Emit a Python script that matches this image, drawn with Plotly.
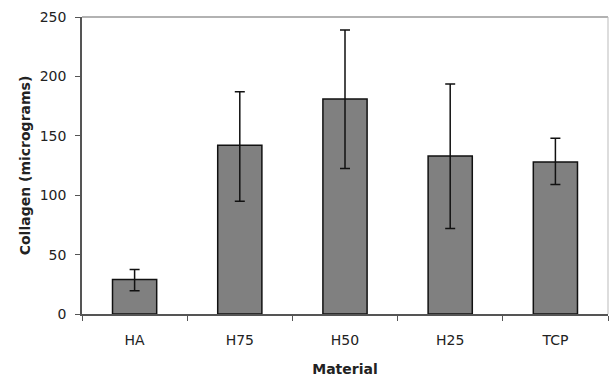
import plotly.graph_objects as go

materials = ["HA", "H75", "H50", "H25", "TCP"]
collagen = [29, 142, 181, 133, 128]
err_up = [8.5, 45, 58, 60.5, 20]
err_down = [9.5, 47, 58.5, 61, 19]

fig = go.Figure()
fig.add_trace(go.Bar(
    x=materials, y=collagen,
    marker=dict(color="#808080", line=dict(color="#111111", width=1.5)),
    error_y=dict(type="data", symmetric=False, array=err_up, arrayminus=err_down,
                 color="#111111", thickness=1.5, width=5),
))

font_family = "DejaVu Sans, sans-serif"
fig.update_layout(
    width=610, height=378,
    margin=dict(l=82, r=2, t=17, b=64),
    paper_bgcolor="white", plot_bgcolor="white",
    bargap=0.58,
    showlegend=False,
    font=dict(family=font_family, size=14, color="#222222"),
    xaxis=dict(
        showline=True, linecolor="#555555", linewidth=1.5,
        ticks="outside", ticklen=5, tickcolor="#555555", tickson="boundaries",
        ticklabelstandoff=12,
        showgrid=False,
        title=dict(text="<b>Material</b>", font=dict(size=14), standoff=18),
    ),
    yaxis=dict(
        range=[0, 250], dtick=50,
        showline=True, linecolor="#555555", linewidth=1.5,
        ticks="outside", ticklen=5, tickcolor="#555555",
        ticklabelstandoff=6,
        showgrid=False, zeroline=False,
        title=dict(text="<b>Collagen (micrograms)</b>", font=dict(size=14), standoff=6),
    ),
    shapes=[
        dict(type="line", xref="paper", yref="paper", x0=0, x1=1, y0=1, y1=1,
             line=dict(color="#999999", width=1.5)),
        dict(type="line", xref="paper", yref="paper", x0=1, x1=1, y0=0, y1=1,
             line=dict(color="#bbbbbb", width=1)),
    ],
)

fig.write_html("out.html", config={"displayModeBar": False},
               post_script="document.body.style.margin='0';")
